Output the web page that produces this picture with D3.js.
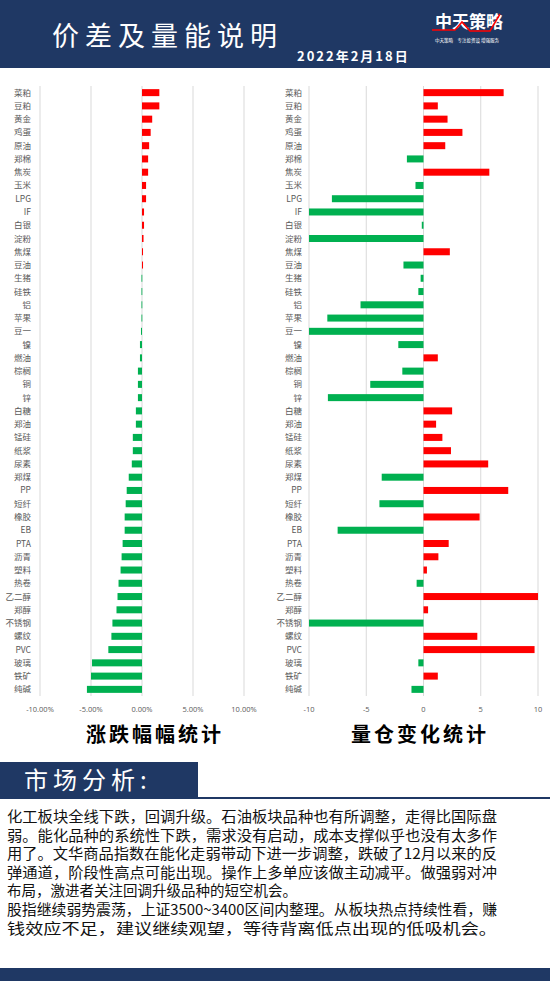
<!DOCTYPE html>
<html><head><meta charset="utf-8">
<script src="https://cdn.jsdelivr.net/npm/d3@7"></script>
<style>body{margin:0;background:#fff}svg{display:block}</style>
</head><body><svg id="c" width="550" height="981"></svg>
<script>
const categoriesL=["菜粕","豆粕","黄金","鸡蛋","原油","郑棉","焦炭","玉米","LPG","IF","白银","淀粉","焦煤","豆油","生猪","硅铁","铝","苹果","豆一","镍","燃油","棕榈","铜","锌","白糖","郑油","锰硅","纸浆","尿素","郑煤","PP","短纤","橡胶","EB","PTA","沥青","塑料","热卷","乙二醇","郑醇","不锈钢","螺纹","PVC","玻璃","铁矿","纯碱"];
const pctChange=[1.7,1.7,1.0,0.85,0.7,0.6,0.6,0.4,0.4,0.2,0.2,0.15,0.1,0.1,-0.05,-0.05,-0.05,-0.05,-0.1,-0.2,-0.2,-0.4,-0.4,-0.4,-0.6,-0.6,-0.9,-0.9,-1.0,-1.3,-1.5,-1.6,-1.7,-1.7,-1.9,-2.0,-2.1,-2.3,-2.4,-2.5,-2.9,-3.0,-3.3,-4.9,-5.0,-5.4];
const volChange=[7.0,1.25,2.1,3.4,1.9,-1.45,5.75,-0.7,-8.0,-10,-0.15,-10,2.3,-1.75,-0.25,-0.45,-5.5,-8.4,-10,-2.2,1.25,-1.85,-4.65,-8.35,2.5,1.1,1.65,2.4,5.65,-3.65,7.4,-3.85,4.9,-7.5,2.2,1.3,0.3,-0.6,10,0.4,-10,4.7,9.7,-0.45,1.25,-1.05];
const ticksL=[-10,-5,0,5,10];
const ticksR=[-10,-5,0,5,10];
const textLines=["化工板块全线下跌，回调升级。石油板块品种也有所调整，走得比国际盘","弱。能化品种的系统性下跌，需求没有启动，成本支撑似乎也没有太多作","用了。文华商品指数在能化走弱带动下进一步调整，跌破了12月以来的反","弹通道，阶段性高点可能出现。操作上多单应该做主动减平。做强弱对冲","布局，激进者关注回调升级品种的短空机会。","股指继续弱势震荡，上证3500~3400区间内整理。从板块热点持续性看，赚","钱效应不足，建议继续观望，等待背离低点出现的低吸机会。"];

const svg=d3.select("#c");
const navy="#1f3864",red="#ff0000",green="#00b050";
const serif="'Noto Sans CJK SC',sans-serif";
svg.append("rect").attr("x",0).attr("y",0).attr("width",550).attr("height",68).attr("fill",navy);
svg.append("text").attr("x",52).attr("y",46).attr("fill","#fff").attr("font-size",27).attr("font-family",serif).attr("letter-spacing",6).text("价差及量能说明");
svg.append("text").attr("x",297).attr("y",61).attr("fill","#fff").attr("font-size",13).attr("font-weight","bold").attr("font-family",serif).attr("letter-spacing",2).text("2022年2月18日");
svg.append("text").attr("x",435).attr("y",28).attr("fill","#fff").attr("font-size",17).attr("font-weight","bold").attr("font-family",serif).text("中天策略");
svg.append("path").attr("d","M432,30 L455,30 L462,22 L470,31 L490,31 L500,14").attr("stroke",red).attr("stroke-width",1.5).attr("fill","none");
svg.append("text").attr("x",435).attr("y",42).attr("fill","#fff").attr("font-size",4.5).attr("font-family",serif).text("中天策略　专注投资设 增强服务");

const y=d3.scaleBand().domain(categoriesL).range([86,696]).paddingInner(0.0);
const bh=7;
function chart(vals,x,ticks,fmt,labelX){
  const g=svg.append("g");
  g.selectAll(".gl").data(ticks).join("line").attr("x1",d=>x(d)).attr("x2",d=>x(d)).attr("y1",86).attr("y2",696).attr("stroke","#d9d9d9");
  g.selectAll(".bar").data(vals).join("rect")
   .attr("x",d=>Math.min(x(0),x(d))).attr("width",d=>Math.max(0.8,Math.abs(x(d)-x(0))))
   .attr("y",(d,i)=>y(categoriesL[i])+y.bandwidth()/2-bh/2).attr("height",bh)
   .attr("fill",d=>d>0?red:green);
  g.selectAll(".lb").data(categoriesL).join("text").attr("x",labelX).attr("y",d=>y(d)+y.bandwidth()/2+3)
   .attr("text-anchor","end").attr("font-size",8.5).attr("fill","#595959").attr("font-family","'Noto Sans CJK SC',sans-serif").text(d=>d);
  g.selectAll(".tk").data(ticks).join("text").attr("x",d=>x(d)).attr("y",712).attr("text-anchor","middle")
   .attr("font-size",7.5).attr("fill","#595959").attr("font-family","'Open Sans',sans-serif").text(fmt);
}
const xL=d3.scaleLinear().domain([-10,10]).range([40,244]);
const xR=d3.scaleLinear().domain([-10,10]).range([309,538]);
chart(pctChange,xL,ticksL,d=>d.toFixed(2)+"%",31);
chart(volChange,xR,ticksR,d=>d,302);

svg.append("text").attr("x",155).attr("y",742).attr("text-anchor","middle").attr("font-size",20).attr("font-weight","bold").attr("letter-spacing",3).attr("font-family",serif).text("涨跌幅幅统计");
svg.append("text").attr("x",420).attr("y",742).attr("text-anchor","middle").attr("font-size",20).attr("font-weight","bold").attr("letter-spacing",3).attr("font-family",serif).text("量仓变化统计");

svg.append("rect").attr("x",0).attr("y",762).attr("width",198).attr("height",37).attr("fill",navy);
svg.append("rect").attr("x",0).attr("y",797).attr("width",550).attr("height",2).attr("fill",navy);
svg.append("text").attr("x",24).attr("y",789).attr("fill","#fff").attr("font-size",24).attr("letter-spacing",5).attr("font-family",serif).text("市场分析:");

svg.selectAll(".tl").data(textLines).join("text").attr("x",7).attr("y",(d,i)=>822+i*18.6)
 .attr("font-size",14.5).attr("fill","#111").attr("font-family","'Noto Sans CJK SC',sans-serif")
 .attr("textLength",d=>d.length>25?490:null).attr("lengthAdjust","spacingAndGlyphs").text(d=>d);
svg.append("rect").attr("x",0).attr("y",968).attr("width",550).attr("height",13).attr("fill",navy);
</script></body></html>
